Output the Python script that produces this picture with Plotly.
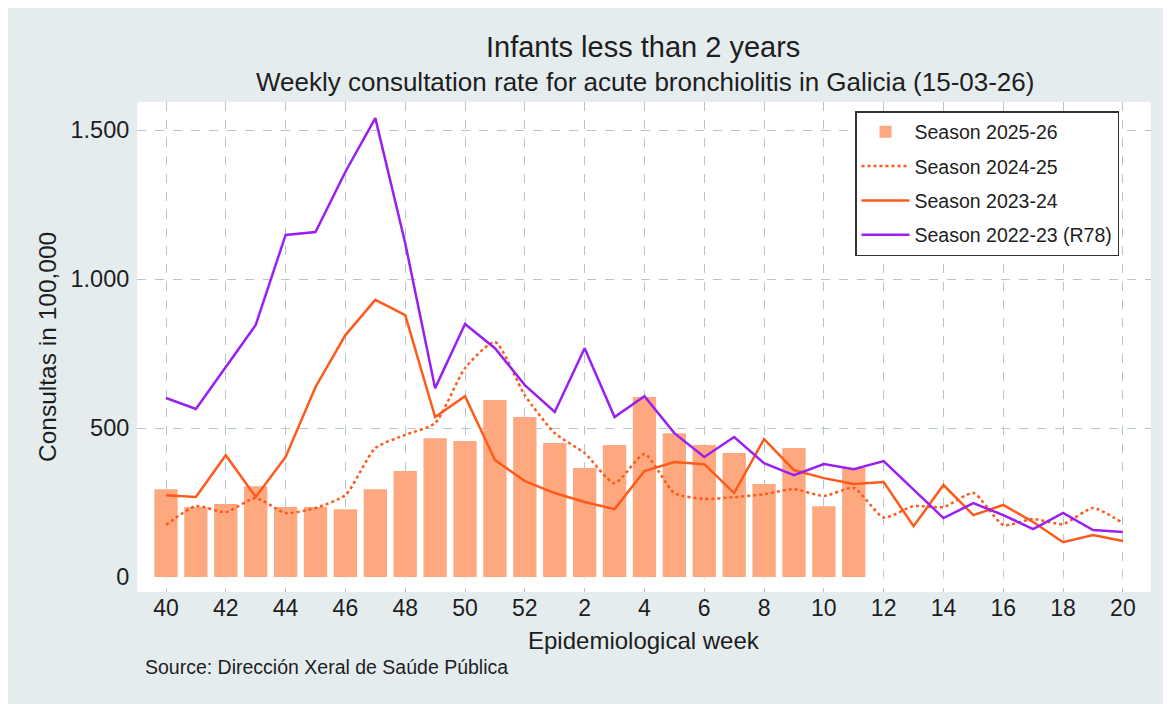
import plotly.graph_objects as go

weeks = [40, 41, 42, 43, 44, 45, 46, 47, 48, 49, 50, 51, 52,
         1, 2, 3, 4, 5, 6, 7, 8, 9, 10, 11, 12, 13, 14, 15, 16, 17, 18, 19, 20]

season_2025_26 = [295, 235, 245, 305, 235, 235, 228, 295, 356, 466, 457, 594, 537,
                  450, 366, 443, 604, 483, 443, 416, 312, 433, 238, 366]

season_2024_25 = [175, 238, 218, 265, 215, 232, 275, 433, 477, 517, 701, 789, 610,
                  483, 416, 315, 413, 282, 262, 268, 278, 295, 272, 299, 200,
                  238, 235, 282, 175, 195, 178, 232, 181]

season_2023_24 = [275, 269, 409, 269, 403, 638, 812, 930, 879, 537, 607, 393, 322,
                  282, 252, 228, 356, 386, 379, 282, 463, 359, 332, 312, 319,
                  171, 309, 208, 242, 185, 117, 141, 121]

season_2022_23 = [601, 564, 705, 846, 1148, 1158, 1360, 1540, 1120, 634, 849, 768, 644,
                  554, 768, 537, 607, 483, 403, 470, 382, 342, 379, 362, 389,
                  292, 198, 248, 208, 161, 215, 158, 151]

y_ticks = [0, 500, 1000, 1500]

idx = list(range(len(weeks)))
tick_idx = idx[::2]
tick_txt = [str(weeks[i]) for i in tick_idx]

FONT = "Arial, Liberation Sans, sans-serif"
BG = "#e4ecee"
GRID = "#b3c6cd"
TXT = "#1e1e1e"

# plot-area geometry in page pixels (page has an 8px body margin)
PL, PT, PR, PB = 137, 102, 1151, 592
PW, PH = PR - PL, PB - PT


def px(x):
    return (x - PL) / PW


def py(y):
    return (PB - y) / PH


fig = go.Figure()
fig.add_trace(go.Bar(x=idx[:len(season_2025_26)], y=season_2025_26, name="Season 2025-26",
                     marker=dict(color="#fea880", line=dict(width=0)), width=0.78,
                     legendgroup="a"))
fig.add_trace(go.Scatter(x=idx, y=season_2024_25, name="Season 2024-25", mode="lines",
                         line=dict(color="#ff5a1a", width=2.5, dash="dot", shape="spline", smoothing=0.6),
                         legendgroup="b"))
fig.add_trace(go.Scatter(x=idx, y=season_2023_24, name="Season 2023-24", mode="lines",
                         line=dict(color="#ff5a1a", width=2.5),
                         legendgroup="c"))
fig.add_trace(go.Scatter(x=idx, y=season_2022_23, name="Season 2022-23 (R78)", mode="lines",
                         line=dict(color="#9a1ff0", width=2.5),
                         legendgroup="d"))

fig.update_layout(
    width=1163, height=696,
    margin=dict(l=PL - 8, r=1171 - PR, t=PT - 8, b=704 - PB),
    paper_bgcolor=BG, plot_bgcolor="white",
    font=dict(family=FONT, color=TXT),
    separators=",.",
    showlegend=True,
    legend=dict(x=px(855), y=py(111), xanchor="left", yanchor="top",
                bgcolor="white", bordercolor="#333333", borderwidth=1.5,
                font=dict(size=19.5, family=FONT, color=TXT),
                tracegroupgap=6, traceorder="grouped", itemwidth=48),
)

ann = [
    dict(text="Infants less than 2 years", xref="paper", yref="paper",
         x=px(643), y=py(47), xanchor="center", yanchor="middle",
         showarrow=False, font=dict(size=29, family=FONT, color=TXT)),
    dict(text="Weekly consultation rate for acute bronchiolitis in Galicia (15-03-26)",
         xref="paper", yref="paper", x=px(645), y=py(82),
         xanchor="center", yanchor="middle", showarrow=False,
         font=dict(size=26, family=FONT, color=TXT)),
    dict(text="Consultas in 100,000", xref="paper", yref="paper",
         x=px(47), y=py(347), xanchor="center", yanchor="middle", textangle=-90,
         showarrow=False, font=dict(size=24.5, family=FONT, color=TXT)),
    dict(text="Epidemiological week", xref="paper", yref="paper",
         x=px(644), y=py(640), xanchor="center", yanchor="middle",
         showarrow=False, font=dict(size=24, family=FONT, color=TXT)),
    dict(text="Source: Dirección Xeral de Saúde Pública", xref="paper", yref="paper",
         x=px(143), y=py(667), xanchor="left", yanchor="middle",
         showarrow=False, font=dict(size=19.5, family=FONT, color=TXT)),
]
fig.layout.annotations = ann

fig.update_xaxes(range=[-0.97, 32.94], tickvals=tick_idx, ticktext=tick_txt,
                 showgrid=True, gridcolor=GRID, griddash="dash", gridwidth=1,
                 ticks="", 
                 tickfont=dict(size=23, family=FONT, color=TXT),
                 showline=False, zeroline=False)
fig.update_yaxes(range=[-50, 1594], tickvals=y_ticks, tickformat=",d",
                 showgrid=True, gridcolor=GRID, griddash="dash", gridwidth=1,
                 zeroline=True, zerolinecolor="white", zerolinewidth=1,
                 ticks="outside", ticklen=2, tickcolor="rgba(0,0,0,0)",
                 tickfont=dict(size=23.5, family=FONT, color=TXT),
                 showline=False)

fig.write_html("out.html")
